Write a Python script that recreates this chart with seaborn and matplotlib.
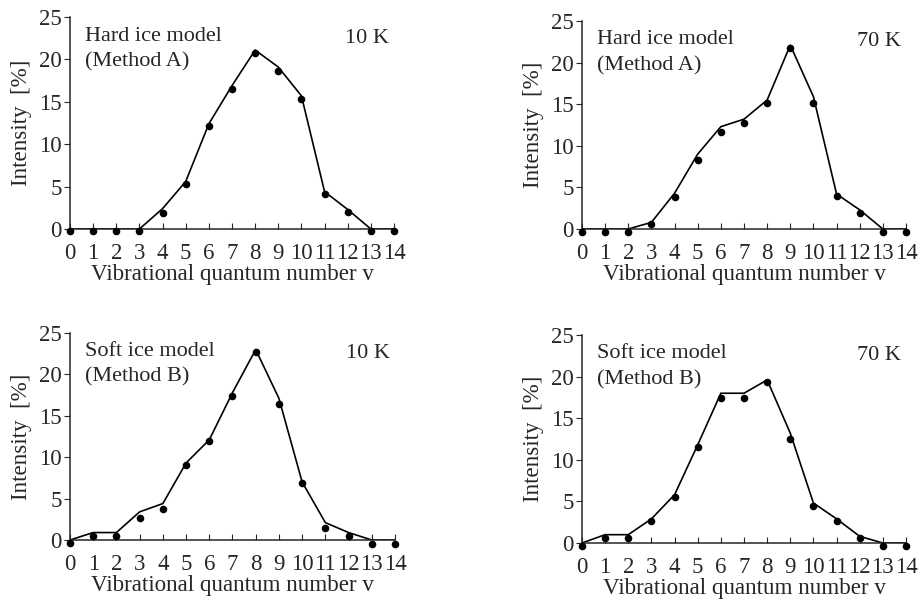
import numpy as np
import pandas as pd
import matplotlib
matplotlib.use("Agg")
import matplotlib.pyplot as plt
import seaborn as sns

v = list(range(15))

# Hard ice model, 10 K
hard10_line = [0, 0, 0, 0, 2.4, 5.6, 12.4, 16.9, 21.1, 19.1, 15.7, 4.4, 2.3, 0, 0]
hard10_dots = [-0.2, -0.2, -0.2, -0.2, 1.9, 5.3, 12.1, 16.5, 20.7, 18.6, 15.3, 4.1, 2.0, -0.2, -0.2]
# Hard ice model, 70 K
hard70_line = [0, 0, 0, 0.8, 4.3, 9.0, 12.3, 13.2, 15.5, 22.1, 15.9, 4.2, 2.3, 0, 0]
hard70_dots = [-0.4, -0.4, -0.4, 0.6, 3.9, 8.3, 11.7, 12.8, 15.2, 21.8, 15.2, 4.0, 1.9, -0.4, -0.4]
# Soft ice model, 10 K
soft10_line = [0, 0.9, 0.9, 3.4, 4.4, 9.3, 12.1, 17.8, 23.0, 17.1, 7.0, 2.1, 0.9, 0, 0]
soft10_dots = [-0.4, 0.5, 0.5, 2.7, 3.8, 9.1, 12.0, 17.4, 22.7, 16.4, 6.85, 1.4, 0.5, -0.5, -0.5]
# Soft ice model, 70 K
soft70_line = [0, 1.0, 1.0, 2.9, 5.8, 11.8, 18.0, 18.0, 19.6, 13.2, 4.8, 2.9, 0.8, 0, 0]
soft70_dots = [-0.4, 0.6, 0.6, 2.6, 5.5, 11.5, 17.4, 17.4, 19.4, 12.5, 4.5, 2.6, 0.6, -0.4, -0.4]

model_titles = ["Hard ice model\n(Method A)", "Hard ice model\n(Method A)",
                "Soft ice model\n(Method B)", "Soft ice model\n(Method B)"]
temp_labels = ["10 K", "70 K", "10 K", "70 K"]
y_ticks = [0, 5, 10, 15, 20, 25]
x_label = "Vibrational quantum number v"
y_label = "Intensity  [%]"

sns.set_style("ticks")
plt.rcParams['font.family'] = ['Liberation Serif', 'DejaVu Serif']

fig = plt.figure(figsize=(9.18, 6.02), dpi=100)
W, H = 918, 602
# axes boxes in pixels: (left, top, right, bottom)
boxes = [(70, 17, 394, 229), (582, 21, 906, 229), (70, 333, 395, 540), (582, 335, 906, 543)]

lines = [hard10_line, hard70_line, soft10_line, soft70_line]
dots = [hard10_dots, hard70_dots, soft10_dots, soft70_dots]

for i in range(4):
    l, t, r, b = boxes[i]
    ax = fig.add_axes([l / W, 1 - b / H, (r - l) / W, (b - t) / H])
    df = pd.DataFrame({"v": v, "line": lines[i], "dots": dots[i]})
    sns.lineplot(data=df, x="v", y="line", ax=ax, color="black", linewidth=1.2)
    sns.scatterplot(data=df, x="v", y="dots", ax=ax, color="black", s=30,
                    edgecolor="black", linewidth=0, clip_on=False, zorder=5)
    ax.set_xlim(0, 14)
    ax.set_ylim(0, 25)
    ax.set_xticks(v)
    ax.set_yticks(y_ticks)
    ax.tick_params(axis="x", direction="in", length=4, width=0.8, pad=10, labelsize=16.5)
    ax.tick_params(axis="y", direction="out", length=4, width=0.8, pad=2, labelsize=16.5)
    for s in ["top", "right"]:
        ax.spines[s].set_visible(False)
    for s in ["left", "bottom"]:
        ax.spines[s].set_linewidth(1.1)
    ax.set_xlabel(x_label, fontsize=16.6, labelpad=0)
    ax.set_ylabel(y_label, fontsize=16.6, labelpad=5)
    ax.text(0.045, 0.955, model_titles[i], transform=ax.transAxes, fontsize=16,
            ha="left", va="top", linespacing=1.45)
    ax.text(0.985, 0.945, temp_labels[i], transform=ax.transAxes, fontsize=16,
            ha="right", va="top")

fig.savefig("out.png", dpi=100)
